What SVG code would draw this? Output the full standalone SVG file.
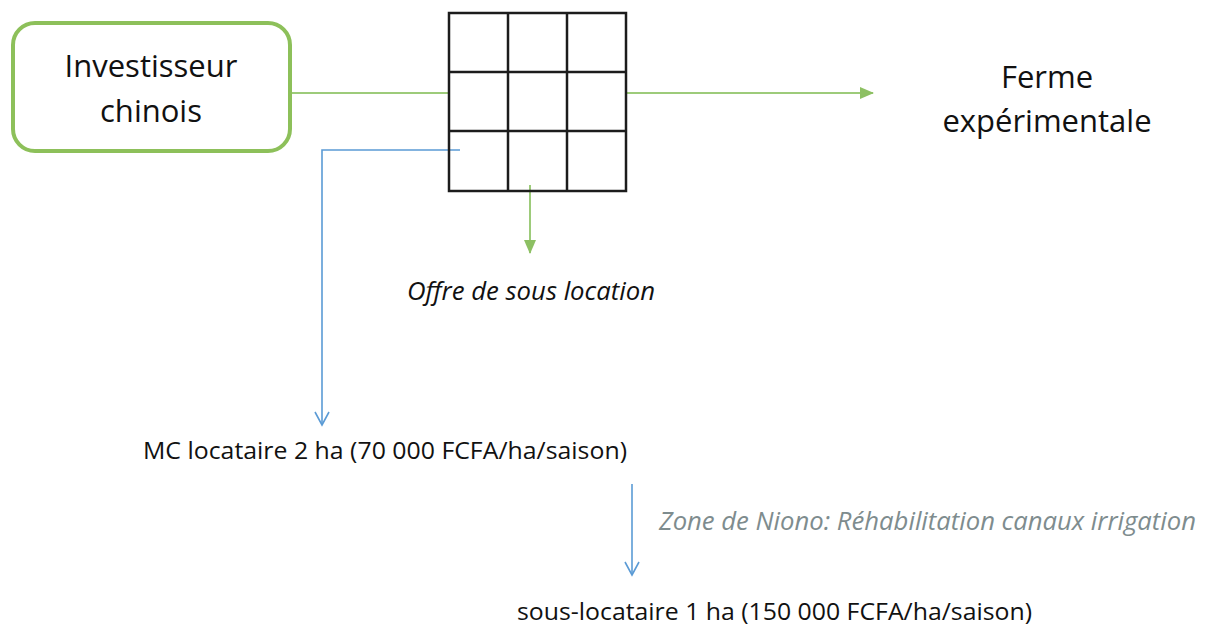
<svg xmlns="http://www.w3.org/2000/svg" width="1210" height="628" viewBox="0 0 1210 628">
  <defs>
    <marker id="greenHead" markerWidth="14" markerHeight="12" refX="13" refY="6" orient="auto" markerUnits="userSpaceOnUse">
      <path d="M0,0 L14,6 L0,12 Z" fill="#8DC063"/>
    </marker>
    <marker id="blueHead" markerWidth="16" markerHeight="16" refX="14" refY="8" orient="auto" markerUnits="userSpaceOnUse">
      <path d="M1,1 L14,8 L1,15" fill="none" stroke="#5B9BD5" stroke-width="1.6"/>
    </marker>
  </defs>
  <style>
    .big { font-family: "Open Sans", "Liberation Sans", sans-serif; font-size: 31px; fill: #111; text-anchor: middle; }
    .body { font-family: "Open Sans", "Liberation Sans", sans-serif; font-size: 24px; fill: #111; }
    .ital { font-family: "Open Sans", "Liberation Sans", sans-serif; font-size: 25px; font-style: italic; }
    .grid { fill: none; stroke: #1c1c1c; stroke-width: 2.5; }
    .gline { fill: none; stroke: #9DCB7A; stroke-width: 2; }
    .bline { fill: none; stroke: #5B9BD5; stroke-width: 1.6; }
  </style>
  <rect width="1210" height="628" fill="#ffffff"/>

  <g id="connectors">
    <line class="gline" x1="290" y1="93" x2="449" y2="93"/>
    <line class="gline" x1="626" y1="93" x2="873" y2="93" marker-end="url(#greenHead)"/>
    <line class="gline" x1="530" y1="185" x2="530" y2="253" marker-end="url(#greenHead)"/>
    <polyline class="bline" points="460,150 322,150 322,425" marker-end="url(#blueHead)"/>
    <line class="bline" x1="632" y1="484" x2="632" y2="575" marker-end="url(#blueHead)"/>
  </g>

  <g id="investisseur">
    <rect x="13" y="23" width="277" height="128" rx="22" ry="22" fill="#ffffff" stroke="#8DC05A" stroke-width="4"/>
    <text class="big" x="151" y="77">Investisseur</text>
    <text class="big" x="151" y="122">chinois</text>
  </g>

  <g id="parcelles">
    <rect class="grid" x="449" y="13" width="177" height="178"/>
    <line class="grid" x1="508" y1="13" x2="508" y2="191"/>
    <line class="grid" x1="567" y1="13" x2="567" y2="191"/>
    <line class="grid" x1="449" y1="72" x2="626" y2="72"/>
    <line class="grid" x1="449" y1="131" x2="626" y2="131"/>
  </g>

  <g id="ferme">
    <text class="big" x="1047" y="88">Ferme</text>
    <text class="big" x="1047" y="132">expérimentale</text>
  </g>

  <g id="offre">
    <text class="ital" x="407" y="300" fill="#111" textLength="248" lengthAdjust="spacingAndGlyphs">Offre de sous location</text>
  </g>

  <g id="mc-locataire">
    <text class="body" x="143" y="459" textLength="484" lengthAdjust="spacingAndGlyphs">MC locataire 2 ha (70 000 FCFA/ha/saison)</text>
  </g>

  <g id="zone">
    <text class="ital" x="659" y="530" fill="#7E8C8E" textLength="537" lengthAdjust="spacingAndGlyphs">Zone de Niono: Réhabilitation canaux irrigation</text>
  </g>

  <g id="sous-locataire">
    <text class="body" x="517" y="620" textLength="515" lengthAdjust="spacingAndGlyphs">sous-locataire 1 ha (150 000 FCFA/ha/saison)</text>
  </g>
</svg>
